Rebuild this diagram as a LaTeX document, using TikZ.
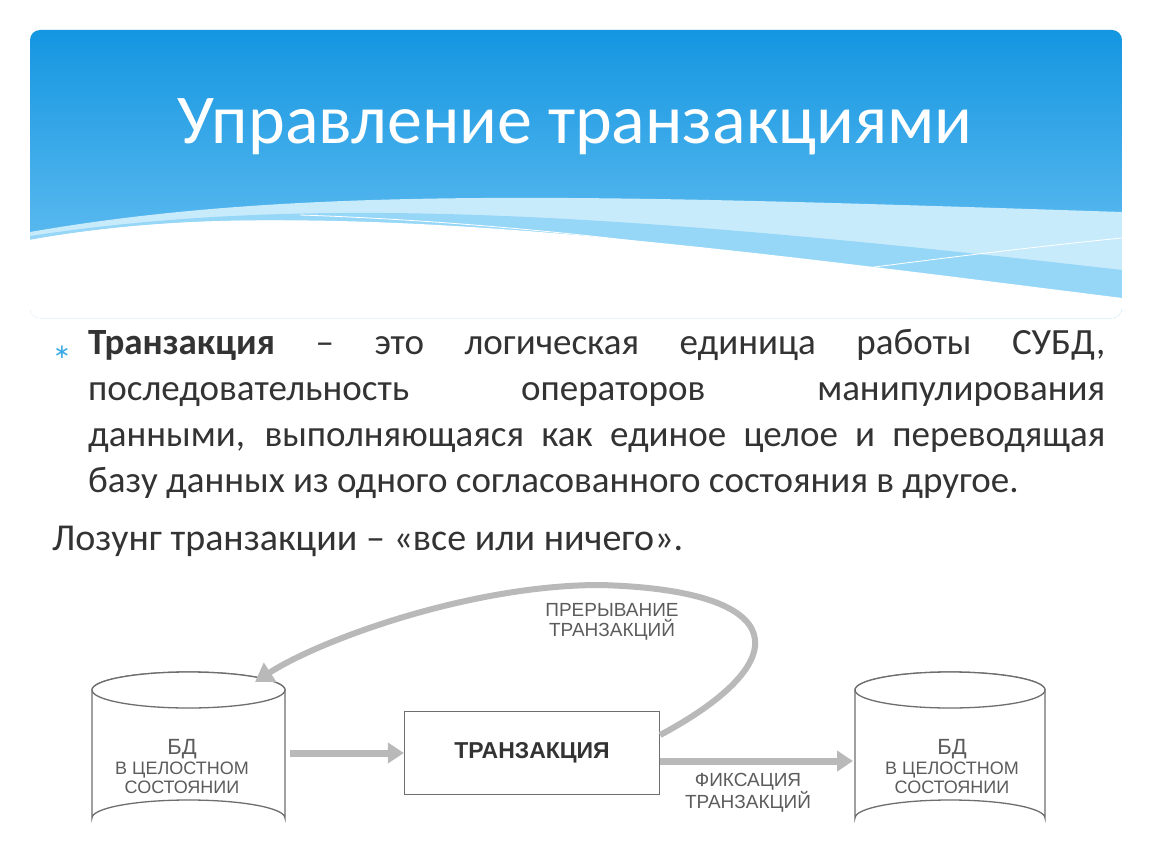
\documentclass[tikz,border=0pt]{standalone}
\usepackage{fontspec}
\setmainfont{Carlito}
\newfontfamily\lab{Liberation Sans}
\newfontfamily\djv{DejaVu Sans}
\usetikzlibrary{arrows.meta}
\definecolor{txt}{HTML}{333333}
\definecolor{gr}{HTML}{8A8A8A}
\definecolor{htop}{RGB}{20,150,225}
\definecolor{hbot}{RGB}{120,200,245}
\definecolor{band}{RGB}{150,215,248}
\definecolor{bandl}{RGB}{200,235,252}
\definecolor{bul}{RGB}{60,170,230}
\tikzset{cyl/.style={draw=gr!80!black,line width=1.3pt,fill=white},
 lbl/.style={font=\lab\fontsize{19}{20}\selectfont,text=txt!80,align=center},
 dbl/.style={font=\lab\fontsize{18}{19}\selectfont,text=txt!80,align=center},
 garrow/.style={draw=gray!55,line width=7pt,-{Triangle[length=16pt,width=20pt]}}}
\begin{document}
\begin{tikzpicture}[x=1pt,y=-1pt]
\useasboundingbox (0,0) rectangle (1150,864);
\fill[white] (0,0) rectangle (1150,864);
% header
\begin{scope}
\clip[rounded corners=10pt] (30,30) rectangle (1122,318);
\shade[top color=htop,bottom color=hbot] (30,30) rectangle (1122,330);
\fill[bandl] (30,232) .. controls (300,185) and (600,195) .. (1122,212) -- (1122,330) -- (30,330) -- cycle;
\fill[band] (30,236) .. controls (300,195) and (600,210) .. (1122,270) -- (1122,330) -- (30,330) -- cycle;
\fill[white] (30,240) .. controls (300,190) and (700,245) .. (1122,298) -- (1122,330) -- (30,330) -- cycle;
\fill[white] (30,240) .. controls (400,175) and (700,290) .. (1050,330) -- (30,330) -- cycle;
\draw[white,line width=0.8pt] (300,215) .. controls (600,225) and (900,275) .. (1040,312);
\draw[white,line width=0.8pt] (700,290) .. controls (850,270) and (1000,250) .. (1122,238);
\end{scope}
\node[text=white,font=\fontsize{70}{80}\selectfont] (title) at (575,127) {Управление транзакциями};
% body
\node[text=bul,font=\djv\fontsize{20}{20}\selectfont] (bullet) at (62,352) {∗};
\node[anchor=north west,inner sep=0pt,text=txt] (body) at (88,329) {\parbox{1017pt}{\fontsize{37}{46}\selectfont \textbf{Транзакция} – это логическая единица работы СУБД,\linebreak последовательность операторов манипулирования\linebreak данными, выполняющаяся как единое целое и переводящая\linebreak базу данных из одного согласованного состояния в другое.}};
\node[anchor=west,text=txt,font=\fontsize{38}{40}\selectfont,inner sep=0pt] (motto) at (52,541) {Лозунг транзакции – «все или ничего».};
% left cylinder
\draw[cyl] (92,690) -- (92,818) arc[start angle=180,end angle=360,x radius=96.5,y radius=18] -- (285,690) arc[start angle=0,end angle=-180,x radius=96.5,y radius=18] -- cycle;
\draw[cyl] (188.5,690) ellipse[x radius=96.5,y radius=18];
\node[dbl] (db1) at (182,767) {{\fontsize{22}{22}\selectfont БД}\\[1pt] В ЦЕЛОСТНОМ\\ СОСТОЯНИИ};
% right cylinder
\draw[cyl] (855,690) -- (855,818) arc[start angle=180,end angle=360,x radius=95,y radius=18] -- (1045,690) arc[start angle=0,end angle=-180,x radius=95,y radius=18] -- cycle;
\draw[cyl] (950,690) ellipse[x radius=95,y radius=18];
\node[dbl] (db2) at (952,767) {{\fontsize{22}{22}\selectfont БД}\\[1pt] В ЦЕЛОСТНОМ\\ СОСТОЯНИИ};
% box
\node[draw=gr!80!black,line width=1.3pt,fill=white,minimum width=255pt,minimum height=83pt,font=\lab\bfseries\fontsize{23}{24}\selectfont,text=txt] (tr) at (532,753) {ТРАНЗАКЦИЯ};
% arrows
\coordinate (a1) at (290,753);
\draw[garrow] (a1) -- (tr.west);
\coordinate (a2) at (853,761);
\draw[garrow] ([yshift=-8pt]tr.east) -- (a2);
\coordinate (cend) at (255,682);
\draw[draw=gray!55,line width=6pt,-{Triangle[length=18pt,width=22pt]}] ([yshift=18pt]tr.east) .. controls (800,660) and (790,590) .. (600,585) .. controls (470,585) and (320,640) .. (cend);
\node[lbl] (l1) at (612,622) {ПРЕРЫВАНИЕ\\ТРАНЗАКЦИЙ};
\node[lbl] (l2) at (748,793) {ФИКСАЦИЯ\\ТРАНЗАКЦИЙ};
\end{tikzpicture}
\end{document}
